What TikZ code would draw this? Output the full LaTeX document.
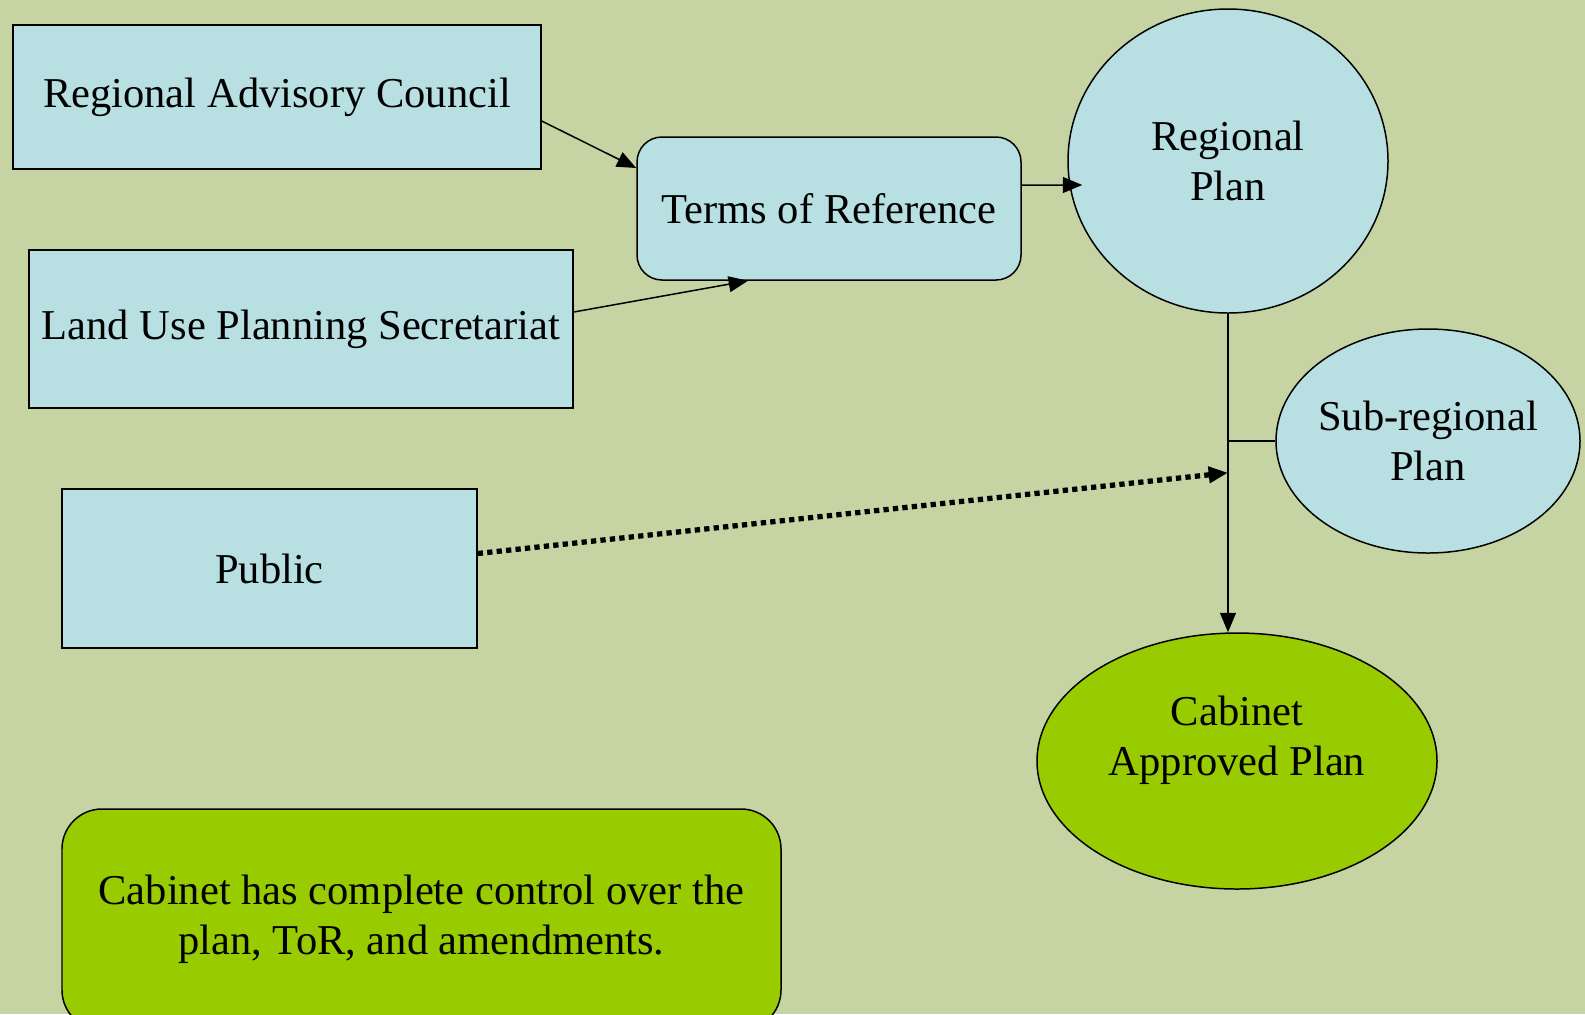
\documentclass[tikz,border=0pt]{standalone}
\usepackage{fontspec}
\setmainfont{Liberation Serif}
\usetikzlibrary{shapes.geometric,arrows.meta}
\definecolor{bgreen}{HTML}{C6D4A3}
\definecolor{lblue}{HTML}{B8E0E2}
\definecolor{lgreen}{HTML}{99CC00}

\begin{document}
\begin{tikzpicture}[
		font=\fontsize{24.2}{28.7}\selectfont,
		>={Triangle[length=11pt,width=9pt]},
		line width=0.85pt,
		box/.style={draw, fill=lblue, align=center, inner sep=0pt},
		roundbox/.style={box, rounded corners=0.5cm},
		oval/.style={ellipse, draw, fill=lblue, align=center, inner sep=0pt}]
		\useasboundingbox (0,0) rectangle (31.7,-20.28);
		\fill[bgreen] (0,0) rectangle (31.7,-20.28);
		
		\node[box, minimum width=10.56cm, minimum height=2.88cm] (rac) at (5.54,-1.94) {Regional Advisory Council};
		\node[box, minimum width=10.88cm, minimum height=3.16cm] (lups) at (6.02,-6.58) {Land Use Planning Secretariat};
		\node[box, minimum width=8.3cm, minimum height=3.18cm] (public) at (5.39,-11.37) {Public};
		\node[roundbox, minimum width=7.68cm, minimum height=2.86cm] (tor) at (16.58,-4.17) {Terms of Reference};
		\node[oval, minimum width=6.4cm, minimum height=6.08cm] (regplan) at (24.56,-3.22) {Regional\\ Plan};
		\node[oval, inner xsep=-0.1cm, minimum width=6.08cm, minimum height=4.48cm] (subplan) at (28.56,-8.82) {Sub-regional\\ Plan};
		\node[oval, fill=lgreen, minimum width=8cm, minimum height=5.12cm] (cabplan) at (24.74,-15.22) {Cabinet\\ Approved Plan\\[0pt]};
		\node[box, fill=lgreen, rounded corners=0.8cm, minimum width=14.38cm, minimum height=4.42cm] (note) at (8.43,-18.39) {Cabinet has complete control over the\\ plan, ToR, and amendments.};
		
		\coordinate (pubin) at ([yshift=-3.18cm]regplan.south);
		\coordinate (subjoin) at (regplan.south |- subplan.west);
		
		\draw[->] ([yshift=-0.48cm]rac.east) -- ([yshift=0.81cm]tor.west);
		\draw[->] ([yshift=0.34cm]lups.east) -- ([xshift=-1.62cm]tor.south);
		\draw[->] ([yshift=0.47cm]tor.east) -- ([xshift=0.3cm,yshift=-0.48cm]regplan.west);
		\draw[->] (regplan.south) -- (regplan.south |- cabplan.north);
		\draw (subjoin) -- (subplan.west);
		\draw[->, line width=3pt, dash pattern=on 3pt off 2.4pt] ([yshift=0.3cm]public.east) -- (pubin);
		\end{tikzpicture}
\end{document}
